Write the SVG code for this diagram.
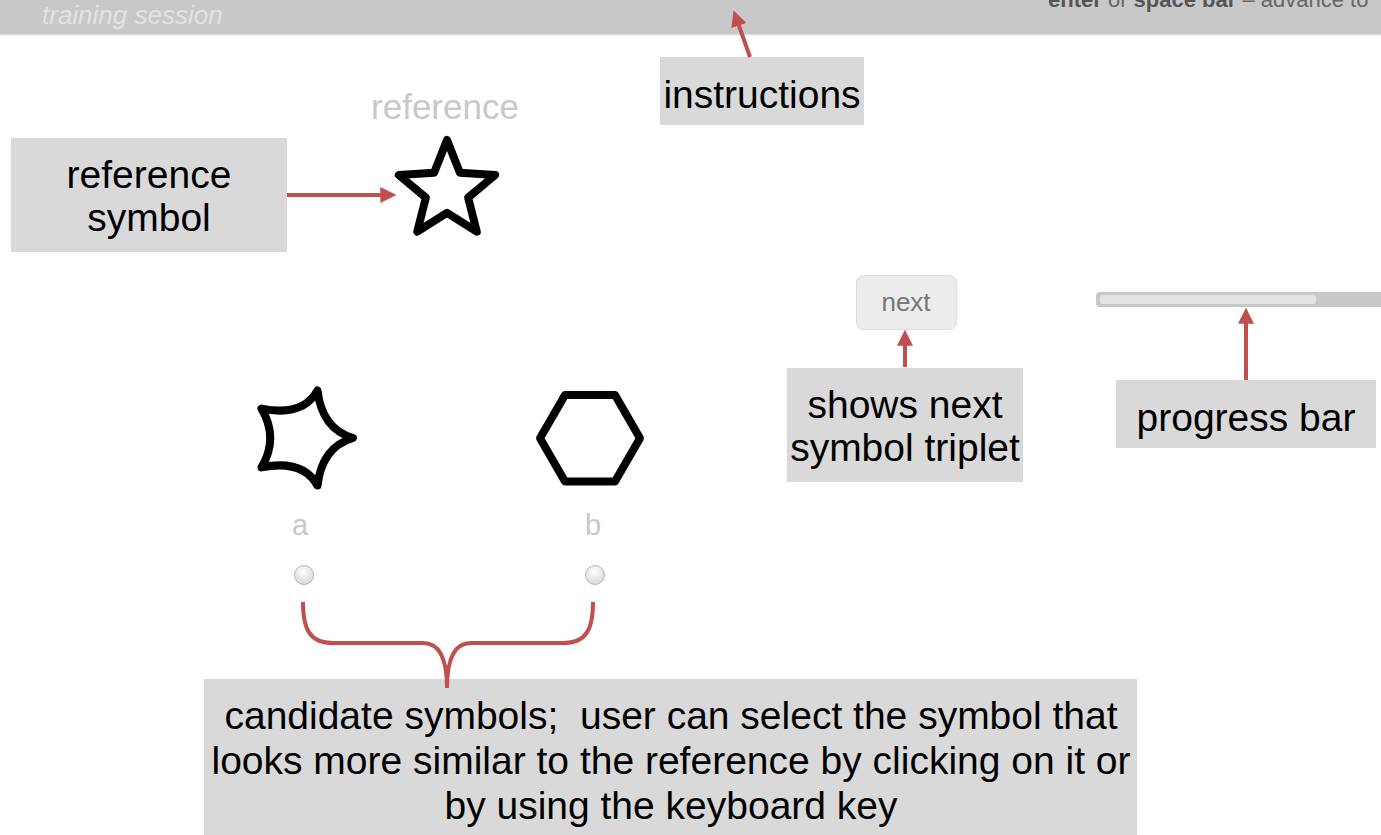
<svg xmlns="http://www.w3.org/2000/svg" width="1381" height="835" viewBox="0 0 1381 835">
  <style>
    .box { fill: #d9d9d9; }
    .lbl { font-family: "Liberation Sans", Arial, sans-serif; font-size: 39px; fill: #000; text-anchor: middle; }
    .ghost { font-family: "Liberation Sans", Arial, sans-serif; fill: #c8c8c8; text-anchor: middle; }
    .sym { fill: none; stroke: #000; stroke-width: 8; stroke-linejoin: round; stroke-linecap: round; }
    .conn { fill: none; stroke: #c0504d; stroke-width: 4; }
  </style>
  <defs>
    <marker id="arrow" viewBox="0 0 12 12" refX="2" refY="6" markerWidth="4" markerHeight="4" orient="auto" markerUnits="strokeWidth">
      <path d="M0,0 L12,6 L0,12 Z" fill="#c0504d"/>
    </marker>
    <radialGradient id="radio" cx="0.45" cy="0.35" r="0.7">
      <stop offset="0" stop-color="#ffffff"/>
      <stop offset="1" stop-color="#d4d4d4"/>
    </radialGradient>
  </defs>

  <rect width="1381" height="835" fill="#ffffff"/>

  <!-- header bar -->
  <g id="header">
    <rect x="0" y="0" width="1381" height="34" fill="#c8c8c8"/>
    <rect x="0" y="34" width="1381" height="1.5" fill="#e2e2e2"/>
    <text x="42" y="24" font-family="Liberation Sans, Arial, sans-serif" font-style="italic" font-size="26" fill="#e2e2e2">training session</text>
    <text x="1048" y="7" font-family="Liberation Sans, Arial, sans-serif" font-size="22" fill="#666"><tspan font-weight="bold" fill="#555">enter</tspan> or <tspan font-weight="bold" fill="#555">space bar</tspan>  – advance to</text>
  </g>

  <!-- instructions label -->
  <g id="instructions">
    <rect class="box" x="660" y="57" width="204" height="68"/>
    <text class="lbl" x="762" y="108">instructions</text>
  </g>

  <!-- reference symbol -->
  <g id="reference">
    <text class="ghost" x="445" y="119" font-size="35">reference</text>
    <polygon class="sym" points="447,140 459.9,172.8 495.2,175 468.1,197.6 476.8,231.7 447,212.8 417.2,231.7 425.9,197.6 398.8,175 434.1,172.8"/>
  </g>

  <g id="reference-label">
    <rect class="box" x="11" y="138" width="276" height="114"/>
    <text class="lbl" x="149" y="188">reference</text>
    <text class="lbl" x="149" y="231">symbol</text>
  </g>

  <!-- candidate a -->
  <g id="candidate-a">
    <path class="sym" d="M353,438 Q322,447 317.5,485.6 Q303,459 261.5,467.4 Q279,438 261.5,408.6 Q303,417 317.5,390.4 Q322,429 353,438 Z"/>
    <text class="ghost" x="300" y="535" font-size="29">a</text>
    <circle cx="304" cy="575" r="9.5" fill="url(#radio)" stroke="#b8b8b8" stroke-width="1"/>
  </g>

  <!-- candidate b -->
  <g id="candidate-b">
    <polygon class="sym" points="640,438.3 615,395 565,395 540,438.3 565,481.6 615,481.6"/>
    <text class="ghost" x="593" y="535" font-size="29">b</text>
    <circle cx="595" cy="575" r="9.5" fill="url(#radio)" stroke="#b8b8b8" stroke-width="1"/>
  </g>

  <!-- next button -->
  <g id="next-button">
    <rect x="856.5" y="275.5" width="100" height="54" rx="7" fill="#ececec" stroke="#dcdcdc" stroke-width="1"/>
    <text x="906" y="311" font-family="Liberation Sans, Arial, sans-serif" font-size="26" fill="#777" text-anchor="middle">next</text>
  </g>

  <g id="next-label">
    <rect class="box" x="787" y="368" width="236" height="114"/>
    <text class="lbl" x="905" y="418">shows next</text>
    <text class="lbl" x="905" y="461">symbol triplet</text>
  </g>

  <!-- progress bar -->
  <g id="progress-bar">
    <rect x="1096" y="292" width="300" height="15" rx="4" fill="#c8c8c8"/>
    <rect x="1100" y="295" width="216" height="9" rx="2" fill="#e3e3e3"/>
  </g>

  <g id="progress-label">
    <rect class="box" x="1116" y="380" width="260" height="68"/>
    <text class="lbl" x="1246" y="431">progress bar</text>
  </g>

  <!-- candidates label -->
  <g id="candidates-label">
    <rect class="box" x="204" y="679" width="933" height="160"/>
    <text class="lbl" x="671" y="729" xml:space="preserve">candidate symbols;  user can select the symbol that</text>
    <text class="lbl" x="671" y="774">looks more similar to the reference by clicking on it or</text>
    <text class="lbl" x="671" y="819">by using the keyboard key</text>
  </g>

  <!-- connectors -->
  <g id="connectors">
    <line class="conn" x1="750" y1="57" x2="738" y2="23" marker-end="url(#arrow)"/>
    <line class="conn" x1="287" y1="195" x2="383" y2="195" marker-end="url(#arrow)"/>
    <line class="conn" x1="905" y1="367" x2="905" y2="343" marker-end="url(#arrow)"/>
    <line class="conn" x1="1246" y1="380" x2="1246" y2="321" marker-end="url(#arrow)"/>
    <path class="conn" d="M303,602 C303,630 310,643 333,643 L423,643 C440,643 447,660 447,688 C447,660 454,643 471,643 L563,643 C586,643 593,630 593,602"/>
  </g>
</svg>
